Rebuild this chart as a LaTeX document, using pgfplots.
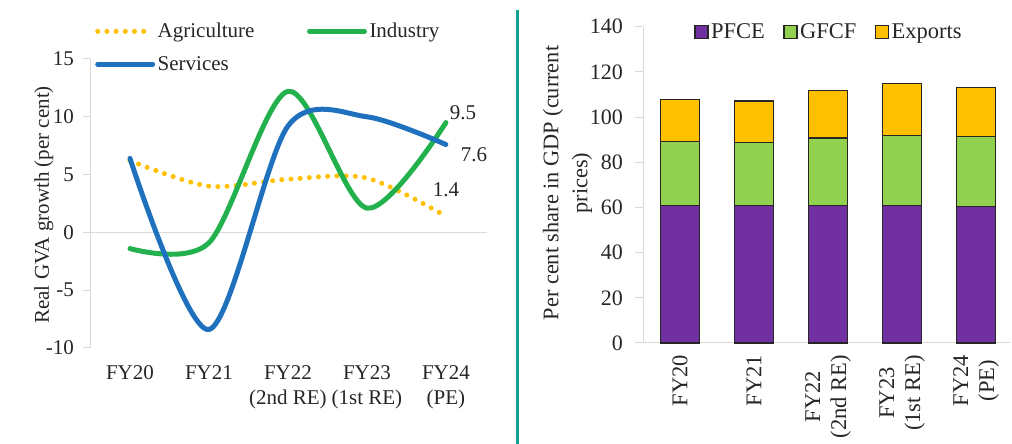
\documentclass[border=0pt]{standalone}
\usepackage{pgfplots}
\pgfplotsset{compat=1.18}
\usepackage{fontspec}
\setmainfont{Liberation Serif}
\definecolor{agri}{HTML}{FFC000}
\definecolor{ind}{RGB}{34,177,76}
\definecolor{serv}{RGB}{31,113,190}
\definecolor{pfce}{HTML}{7030A0}
\definecolor{gfcf}{HTML}{92D050}
\definecolor{expo}{HTML}{FFC000}
\definecolor{axgray}{HTML}{D9D9D9}
\definecolor{sep}{RGB}{22,160,142}
\definecolor{txt}{HTML}{262626}
\begin{document}
\begin{tikzpicture}[font=\fontsize{21}{25}\selectfont, text=txt]
\useasboundingbox (0pt,0pt) rectangle (1012pt,444pt);
\draw[sep, line width=3pt] (517pt,0pt) -- (517pt,434pt);
% ---------------- left chart ----------------
\begin{axis}[
  at={(90pt,96pt)}, anchor=south west, scale only axis,
  width=397pt, height=289pt,
  xmin=-0.506, xmax=4.52, ymin=-10, ymax=15,
  ytick={-10,-5,0,5,10,15},
  xtick={0,1,2,3,4},
  xticklabels={FY20,FY21,{FY22\\(2nd RE)},{FY23\\(1st RE)},{FY24\\(PE)}},
  axis x line*=bottom, axis y line*=left,
  x axis line style={draw=none},
  y axis line style={axgray, line width=1pt},
  xtick style={draw=none},
  ytick style={axgray, line width=1pt},
  tick align=outside, major tick length=7pt,
  xticklabel style={align=center, inner sep=0pt, yshift=-10pt},
  yticklabel style={inner sep=0pt, xshift=-9pt},
  /pgf/number format/assume math mode=true,
  extra y ticks={0}, extra y tick labels={},
  extra y tick style={grid=major, major grid style={axgray, line width=1pt}},
  ylabel={Real GVA growth (per cent)},
  ylabel style={at={(axis description cs:-0.116,0.495)}, anchor=center},
  clip=false,
  legend columns=2,
  legend cell align=left,
  legend style={draw=none, fill=none, inner sep=0pt, anchor=west,
    at={(axis description cs:0.0126,1.0395)},
    nodes={inner sep=2.5pt},
    row sep=12pt,
    /tikz/every even column/.append style={column sep=50pt}},
  legend image code/.code={\draw[#1] (0pt,0pt) -- (55pt,0pt);},
]
\addplot[agri, line width=5pt, line cap=round, dash pattern=on 0pt off 9.2pt, smooth]
  coordinates {(0,6.2) (1,4.0) (2,4.6) (3,4.7) (4,1.4)};
\addlegendentry{Agriculture}
\addplot[ind, line width=5pt, line cap=round, smooth]
  coordinates {(0,-1.4) (1,-0.9) (2,12.2) (3,2.1) (4,9.5)};
\addlegendentry{Industry}
\addplot[serv, line width=5pt, line cap=round, smooth]
  coordinates {(0,6.4) (1,-8.4) (2,9.2) (3,10.0) (4,7.6)};
\addlegendentry{Services}
\node at (axis cs:4.215,10.38) {9.5};
\node at (axis cs:4.354,6.69) {7.6};
\node at (axis cs:4.0,3.66) {1.4};
\end{axis}
% ---------------- right chart ----------------
\begin{axis}[
  at={(643pt,101pt)}, anchor=south west, scale only axis,
  width=367pt, height=316.3pt,
  font=\fontsize{22}{26}\selectfont,
  ybar stacked, bar width=39pt,
  xmin=-0.5, xmax=4.46, ymin=0, ymax=140,
  ytick={0,20,40,60,80,100,120,140},
  xtick={0,1,2,3,4},
  xticklabels={FY20,FY21,{FY22\\(2nd RE)},{FY23\\(1st RE)},{FY24\\(PE)}},
  axis x line*=bottom, axis y line*=left,
  x axis line style={axgray, line width=1pt, shorten <=-8pt},
  y axis line style={axgray, line width=1pt},
  xtick style={draw=none},
  ytick style={axgray, line width=1pt},
  tick align=outside, major tick length=8pt,
  xticklabel style={font=\fontsize{22.5}{26}\selectfont, rotate=90, anchor=east, align=center, inner sep=0pt, xshift=-4pt},
  yticklabel style={font=\fontsize{22}{26}\selectfont, inner sep=0pt, xshift=-12pt},
  /pgf/number format/assume math mode=true,
  ylabel={Per cent share in GDP (current\\prices)},
  ylabel style={font=\fontsize{22.3}{29}\selectfont, at={(axis description cs:-0.206,0.506)}, anchor=center, align=center},
  legend columns=3,
  legend cell align=left,
  legend style={font=\fontsize{22.5}{26}\selectfont, draw=none, fill=none, inner sep=0pt, anchor=west,
    at={(axis description cs:0.139,0.983)},
    nodes={inner sep=2.5pt},
    /tikz/every even column/.append style={column sep=16pt}},
  clip=false,
]
\addplot[fill=pfce, draw=black!85, line width=1.3pt,
  legend image code/.code={\draw[fill=pfce, draw=black!85, line width=1.3pt] (0pt,-6.5pt) rectangle (13pt,6.5pt);}]
  coordinates {(0,61.0) (1,61.0) (2,61.0) (3,61.0) (4,60.4)};
\addlegendentry{PFCE}
\addplot[fill=gfcf, draw=black!85, line width=1.3pt,
  legend image code/.code={\draw[fill=gfcf, draw=black!85, line width=1.3pt] (0pt,-6.5pt) rectangle (13pt,6.5pt);}]
  coordinates {(0,28.2) (1,27.6) (2,29.7) (3,30.9) (4,30.9)};
\addlegendentry{GFCF}
\addplot[fill=expo, draw=black!85, line width=1.3pt,
  legend image code/.code={\draw[fill=expo, draw=black!85, line width=1.3pt] (0pt,-6.5pt) rectangle (13pt,6.5pt);}]
  coordinates {(0,18.6) (1,18.5) (2,21.1) (3,23.0) (4,21.7)};
\addlegendentry{Exports}
\end{axis}
\end{tikzpicture}
\end{document}
